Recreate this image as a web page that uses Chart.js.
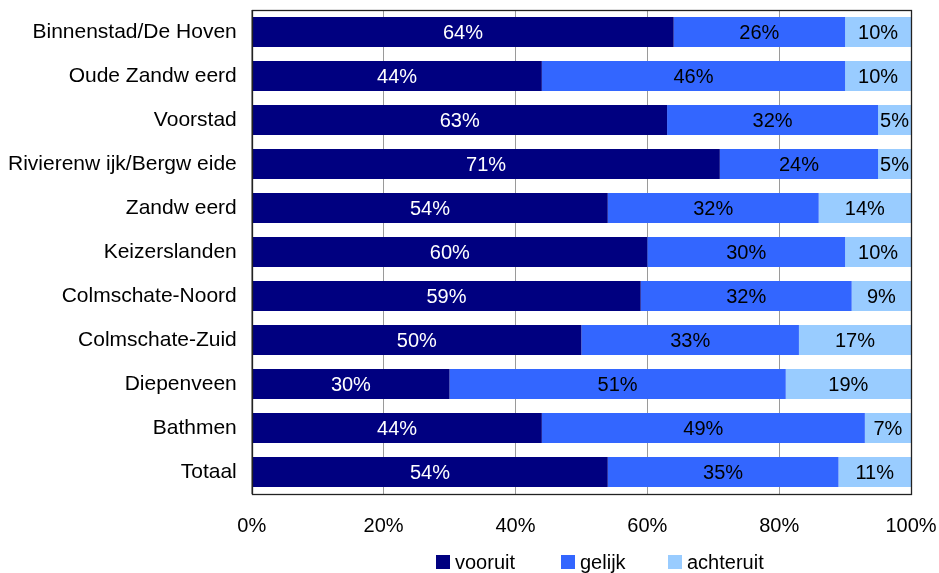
<!DOCTYPE html>
<html>
<head>
<meta charset="utf-8">
<script src="https://cdn.jsdelivr.net/npm/chart.js@4/dist/chart.umd.min.js"></script>
<style>
html,body{margin:0;padding:0;background:#fff;}
#wrap{width:939px;height:573px;position:relative;}
</style>
</head>
<body>
<div id="wrap"><canvas id="c" width="939" height="573"></canvas></div>
<script>
const categories = ["Binnenstad/De Hoven","Oude Zandw eerd","Voorstad","Rivierenw ijk/Bergw eide","Zandw eerd","Keizerslanden","Colmschate-Noord","Colmschate-Zuid","Diepenveen","Bathmen","Totaal"];
const vooruit   = [64,44,63,71,54,60,59,50,30,44,54];
const gelijk    = [26,46,32,24,32,30,32,33,51,49,35];
const achteruit = [10,10,5,5,14,10,9,17,19,7,11];
const xTicks = [0,20,40,60,80,100];

const FONT = "'Liberation Sans', Arial, sans-serif";

const labelPlugin = {
  id: 'barLabels',
  afterDatasetsDraw(chart) {
    const ctx = chart.ctx;
    ctx.save();
    ctx.font = "20px " + FONT;
    ctx.textAlign = 'center';
    ctx.textBaseline = 'middle';
    chart.data.datasets.forEach((ds, di) => {
      const meta = chart.getDatasetMeta(di);
      meta.data.forEach((bar, i) => {
        const v = ds.data[i];
        const left = Math.min(bar.x, bar.base), right = Math.max(bar.x, bar.base);
        ctx.fillStyle = di === 0 ? '#ffffff' : '#000000';
        ctx.fillText(v + '%', (left + right) / 2, bar.y + 1);
      });
    });
    ctx.restore();
  }
};

const framePlugin = {
  id: 'frame',
  afterDraw(chart) {
    const a = chart.chartArea, ctx = chart.ctx;
    ctx.save();
    ctx.strokeStyle = '#222';
    ctx.lineWidth = 1.3;
    ctx.strokeRect(Math.round(a.left) + 0.5, Math.round(a.top) + 0.5, Math.round(a.right - a.left), Math.round(a.bottom - a.top));
    // legend
    const itemX = [436, 561, 668];
    const cy = 562;
    ctx.font = "20px " + FONT;
    ctx.textAlign = 'left';
    ctx.textBaseline = 'middle';
    chart.data.datasets.forEach((ds, i) => {
      ctx.fillStyle = ds.backgroundColor;
      ctx.fillRect(itemX[i], cy - 7, 14, 14);
      ctx.fillStyle = '#000';
      ctx.fillText(ds.label, itemX[i] + 19, cy + 1);
    });
    ctx.restore();
  }
};

new Chart(document.getElementById('c'), {
  type: 'bar',
  data: {
    labels: categories,
    datasets: [
      {label: 'vooruit', data: vooruit, backgroundColor: '#000080'},
      {label: 'gelijk', data: gelijk, backgroundColor: '#3366FF'},
      {label: 'achteruit', data: achteruit, backgroundColor: '#99CCFF'}
    ]
  },
  options: {
    indexAxis: 'y',
    responsive: false,
    animation: false,
    layout: {padding: {top: 10, right: 28, left: -7, bottom: 15}},
    datasets: {bar: {categoryPercentage: 1, barPercentage: 0.68, borderWidth: 0}},
    scales: {
      x: {
        stacked: true, min: 0, max: 100,
        afterBuildTicks(axis) { axis.ticks = xTicks.map(v => ({value: v})); },
        afterFit(axis) { axis.paddingLeft = 0; axis.paddingRight = 0; },
        grid: {color: '#9a9a9a', drawTicks: false, lineWidth: 1},
        border: {display: false},
        ticks: {padding: 20, color: '#000', font: {family: FONT, size: 20}, callback: v => v + '%'}
      },
      y: {
        stacked: true,
        afterFit(axis) { axis.paddingTop = 0; axis.paddingBottom = 0; },
        grid: {display: false, drawTicks: false},
        border: {display: false},
        ticks: {padding: 15, color: '#000', font: {family: FONT, size: 21}}
      }
    },
    plugins: {
      legend: {display: false},
      tooltip: {enabled: false}
    }
  },
  plugins: [labelPlugin, framePlugin]
});
</script>
</body>
</html>
